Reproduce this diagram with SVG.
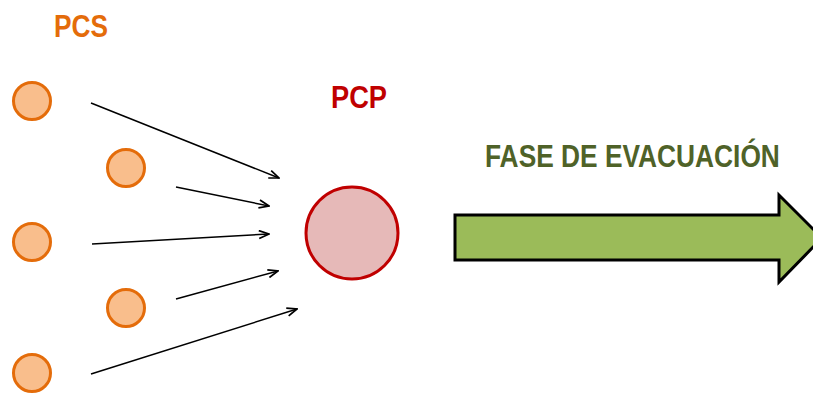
<svg xmlns="http://www.w3.org/2000/svg" width="813" height="394" viewBox="0 0 813 394">
<style>
.pcs{fill:#F9BE8C;stroke:#E46C0A;stroke-width:3}
.pcp{fill:#E6B9B8;stroke:#C00000;stroke-width:3}
.lbl{font-family:"Liberation Sans",Arial,sans-serif;font-weight:bold;font-size:31px}
.con{stroke:#000;stroke-width:1.5;fill:none;marker-end:url(#ah)}
</style>
<defs>
<marker id="ah" viewBox="0 0 12 10" refX="11" refY="5" markerWidth="12" markerHeight="10" markerUnits="userSpaceOnUse" orient="auto">
<path d="M1,1 L11,5 L1,9" fill="none" stroke="#000" stroke-width="1.7"/>
</marker>
</defs>
<rect width="813" height="394" fill="#fff"/>
<g id="label-pcs"><text class="lbl" x="54" y="37" fill="#E46C0A" textLength="54" lengthAdjust="spacingAndGlyphs">PCS</text></g>
<g id="pcs1"><circle class="pcs" cx="32" cy="101" r="18.5"/></g>
<g id="pcs2"><circle class="pcs" cx="126" cy="168" r="18.5"/></g>
<g id="pcs3"><circle class="pcs" cx="32" cy="242" r="18.5"/></g>
<g id="pcs4"><circle class="pcs" cx="126" cy="308" r="18.5"/></g>
<g id="pcs5"><circle class="pcs" cx="32" cy="373" r="18.5"/></g>
<g id="label-pcp"><text class="lbl" x="331" y="108" fill="#C00000" textLength="56" lengthAdjust="spacingAndGlyphs">PCP</text></g>
<g id="pcp"><circle class="pcp" cx="352" cy="233" r="46"/></g>
<g id="connectors">
<line class="con" x1="91" y1="103" x2="279" y2="178"/>
<line class="con" x1="176" y1="187" x2="269" y2="206"/>
<line class="con" x1="92" y1="244" x2="269" y2="234"/>
<line class="con" x1="176" y1="299" x2="278" y2="271"/>
<line class="con" x1="91" y1="374" x2="297" y2="309"/>
</g>
<g id="fase">
<text class="lbl" transform="translate(485,167) scale(0.849,1)" x="0" y="0" fill="#4F6228">FASE DE EVACUACIÓN</text>
<path d="M455,215 L779,215 L779,195 L822,238 L779,282 L779,260 L455,260 Z" fill="#9BBB59" stroke="#000" stroke-width="3" stroke-linejoin="miter"/>
</g>
</svg>
